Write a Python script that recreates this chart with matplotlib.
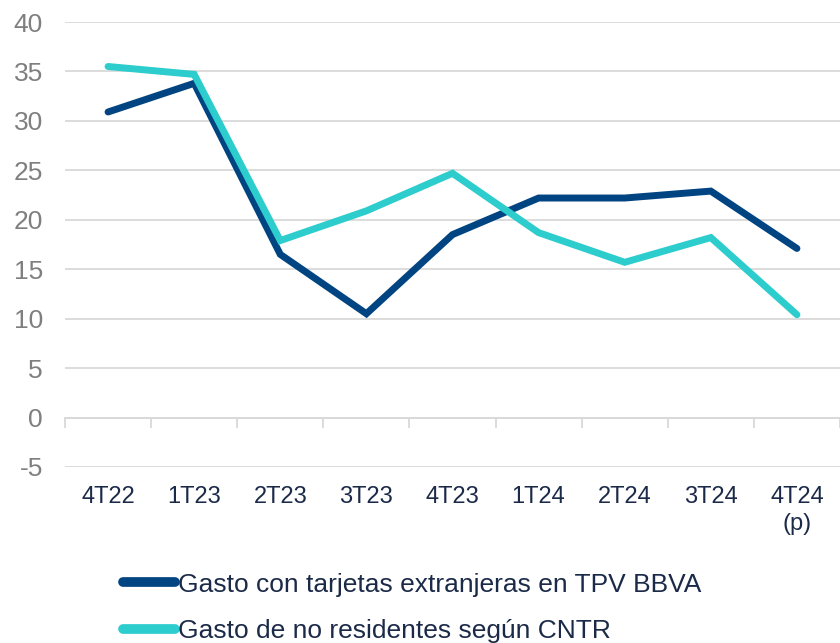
import matplotlib
matplotlib.use("Agg")
import matplotlib.pyplot as plt
import numpy as np
from matplotlib.ticker import FixedLocator

plt.rcParams['font.family'] = ['Liberation Sans', 'DejaVu Sans']
plt.rcParams['axes.unicode_minus'] = False

categories = ["4T22", "1T23", "2T23", "3T23", "4T23", "1T24", "2T24", "3T24", "4T24\n(p)"]
tpv_bbva = [30.9, 33.8, 16.5, 10.5, 18.5, 22.2, 22.2, 22.9, 17.1]
cntr = [35.5, 34.7, 17.9, 20.9, 24.7, 18.7, 15.7, 18.2, 10.4]
series_names = ["Gasto con tarjetas extranjeras en TPV BBVA", "Gasto de no residentes según CNTR"]
yticks = [-5, 0, 5, 10, 15, 20, 25, 30, 35, 40]

navy = "#004481"
aqua = "#2DCCCD"
grid_c = "#d9d9d9"
text_c = "#1b2a48"
ylab_c = "#7f7f7f"

fig = plt.figure(figsize=(8.4, 6.43), dpi=100)
ax = fig.add_axes([65/840, 1-467/643, 1-65/840, (467-22)/643])

x = np.arange(len(categories))
l1, = ax.plot(x, tpv_bbva, color=navy, lw=5, solid_capstyle='round', solid_joinstyle='miter', zorder=3)
l2, = ax.plot(x, cntr, color=aqua, lw=5, solid_capstyle='round', solid_joinstyle='miter', zorder=3)

ymin, ymax = yticks[0], yticks[-1]
ax.set_ylim(ymin, ymax)
ax.set_xlim(-0.5, len(categories) - 0.5)
ax.set_yticks(yticks)
ax.yaxis.grid(True, color=grid_c, lw=1.3)
ax.set_axisbelow(True)
ax.tick_params(axis='y', length=0, pad=16, labelsize=19, labelcolor=ylab_c)
ax.set_xticks(x)
ax.set_xticklabels(categories, fontsize=17, color=text_c, linespacing=1.25)
ax.tick_params(axis='x', length=0, pad=14)
for s in ax.spines.values():
    s.set_visible(False)

# zero axis line with category boundary ticks
zero_frac = (0 - ymin) / (ymax - ymin)
sec = ax.secondary_xaxis(zero_frac)
sec.spines['bottom'].set_color(grid_c)
sec.spines['bottom'].set_linewidth(1.3)
sec.set_xticks([])
sec.xaxis.set_minor_locator(FixedLocator(np.arange(-0.5, len(categories), 1.0)))
sec.tick_params(axis='x', which='minor', length=7, width=1.3, color=grid_c, direction='out')
sec.tick_params(axis='x', which='major', length=0, labelbottom=False)

leg = fig.legend([l1, l2], series_names, loc='upper left',
                 bbox_to_anchor=(112/840, 1-562/643), frameon=False,
                 fontsize=19, handlelength=2.0, handletextpad=0.1,
                 labelspacing=0.85, borderaxespad=0)
for t in leg.get_texts():
    t.set_color(text_c)
for h in leg.get_lines():
    h.set_linewidth(7)
    h.set_solid_capstyle('round')

fig.savefig("out.png", dpi=100)
